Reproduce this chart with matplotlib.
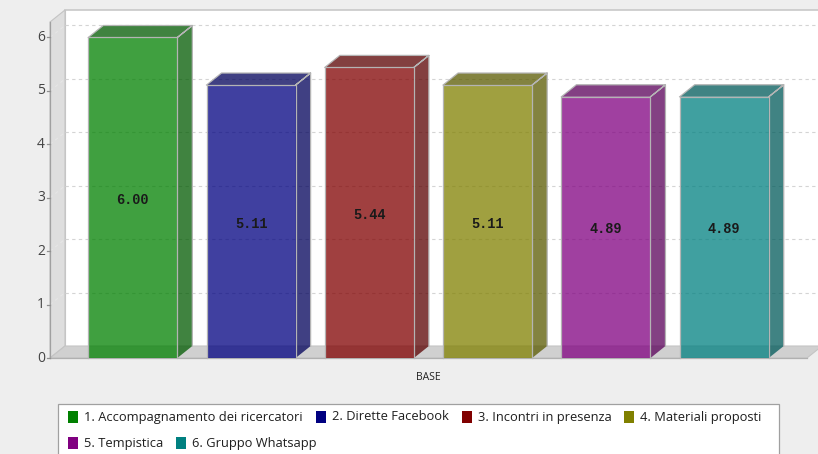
import matplotlib
matplotlib.use("Agg")
import matplotlib.pyplot as plt
from matplotlib.patches import Polygon, Rectangle
from matplotlib.transforms import IdentityTransform, offset_copy
from matplotlib.colors import to_rgb

labels = ["1. Accompagnamento dei ricercatori", "2. Dirette Facebook",
          "3. Incontri in presenza", "4. Materiali proposti",
          "5. Tempistica", "6. Gruppo Whatsapp"]
values = [6.00, 5.11, 5.44, 5.11, 4.89, 4.89]
colors = ["#008000", "#000080", "#800000", "#808000", "#800080", "#008080"]
y_ticks = [0, 1, 2, 3, 4, 5, 6]
axis_label = "BASE"

W, H = 818, 454
DX, DY = 15, 12      # 3d depth offset, pixels
ALPHA = 0.75
BAR_W = 0.753

fig = plt.figure(figsize=(W / 100, H / 100), dpi=100, facecolor="#eeeeee")
ax = fig.add_axes([50 / W, (H - 358) / H, (807 - 50) / W, (358 - 22) / H])
ax.set_xlim(-0.7, 5.7)
ax.set_ylim(0, 6.29)
ax.axis("off")
ident = IdentityTransform()


def px(x, y, dx=0, dy=0):
    p = ax.transData.transform((x, y))
    return (p[0] + dx, p[1] + dy)


def poly(pts, **kw):
    kw.setdefault("clip_on", False)
    ax.add_patch(Polygon(pts, closed=True, transform=ident, **kw))


x0, x1 = ax.get_xlim()
y0, y1 = ax.get_ylim()

# back wall, left wall and floor
poly([px(x0, y0, DX, DY), px(x1, y0, DX, DY), px(x1, y1, DX, DY), px(x0, y1, DX, DY)],
     facecolor="white", edgecolor="none", zorder=0)
ax.plot(*zip(px(x0, y1, DX, DY), px(x1, y1, DX, DY)), transform=ident,
        color="#c8c8c8", lw=1.2, clip_on=False, zorder=1)
ax.plot(*zip(px(x0, y0, DX, DY), px(x0, y1, DX, DY)), transform=ident,
        color="#c8c8c8", lw=0.8, clip_on=False, zorder=1)
poly([px(x0, y0), px(x0, y1), px(x0, y1, DX, DY), px(x0, y0, DX, DY)],
     facecolor="#dedede", edgecolor="#c4c4c4", lw=0.8, zorder=1)
poly([px(x0, y0), px(x0, y0, DX, DY), px(x1, y0, DX, DY), px(x1, y0)],
     facecolor="#d0d0d0", edgecolor="#c4c4c4", lw=0.8, zorder=1)

# grid on back wall
for v in y_ticks[1:]:
    ax.plot(*zip(px(x0, v, DX, DY), px(x1, v, DX, DY)), transform=ident,
            color="#d4d4d4", lw=0.8, ls=(0, (3, 3)), clip_on=False, zorder=2)
    ax.plot(*zip(px(x0, v), px(x0, v, DX, DY)), transform=ident,
            color="#e6e6e6", lw=0.8, ls=(0, (3, 3)), clip_on=False, zorder=2)

# bars
for i, (v, c) in enumerate(zip(values, colors)):
    dark = tuple(ch * 0.7 for ch in to_rgb(c))
    a, b = i - BAR_W / 2, i + BAR_W / 2
    poly([px(b, 0), px(b, v), px(b, v, DX, DY), px(b, 0, DX, DY)],
         facecolor=dark, alpha=ALPHA, edgecolor="none", zorder=3)
    poly([px(a, v), px(b, v), px(b, v, DX, DY), px(a, v, DX, DY)],
         facecolor=dark, alpha=ALPHA, edgecolor="none", zorder=3)
    ax.bar(i, v, width=BAR_W, color=c, alpha=ALPHA, zorder=4, clip_on=False)
    # outline
    ax.plot(*zip(px(a, 0), px(a, v), px(b, v), px(b, 0)), transform=ident,
            color="#b4b4b4", lw=0.9, clip_on=False, zorder=5)
    ax.plot(*zip(px(a, v), px(a, v, DX, DY), px(b, v, DX, DY), px(b, v),
                 px(b, v, DX, DY), px(b, 0, DX, DY)), transform=ident,
            color="#b4b4b4", lw=0.9, clip_on=False, zorder=5)
    ax.text(i, v / 2, f"{v:.2f}", transform=offset_copy(ax.transData, fig=fig, y=-2, units="dots"),
            ha="center", va="center", fontsize=9.8, fontweight="bold",
            family="Liberation Mono", color="#1a1a1a", zorder=6)

# axes lines and ticks
ax.plot(*zip(px(x0, y0), px(x0, y1)), transform=ident, color="#a0a0a0",
        lw=0.9, clip_on=False, zorder=2)
ax.plot(*zip(px(x0, y0), px(x1, y0)), transform=ident, color="#b0b0b0",
        lw=0.9, clip_on=False, zorder=2)
for v in y_ticks:
    ax.plot(*zip(px(x0, v, -3), px(x0, v)), transform=ident, color="#909090",
            lw=0.9, clip_on=False)
    ax.text(x0, v, str(v), transform=offset_copy(ax.transData, fig=fig, x=-5, units="dots"),
            ha="right", va="center", fontsize=10, family="Open Sans", color="#444444")

ax.text((x0 + x1) / 2, 0, axis_label,
        transform=offset_copy(ax.transData, fig=fig, y=-19, units="dots"),
        ha="center", va="center", fontsize=7.5, family="Open Sans", color="#222222")

# legend with flow layout
fig.patches.append(Rectangle((58, H - 460), 779 - 58, 460 - 404, transform=ident,
                             facecolor="white", edgecolor="#a0a0a0", lw=0.9))
renderer = fig.canvas.get_renderer()
lx, ly = 68, H - 417
for lab, c in zip(labels, colors):
    t = fig.text(0, 0, lab, transform=ident, fontsize=9.3, family="Open Sans",
                 color="#1e1e1e", va="center", ha="left")
    tw = t.get_window_extent(renderer).width
    if lx + 16 + tw > 778:
        lx, ly = 68, ly - 26
    fig.patches.append(Rectangle((lx, ly - 6), 10, 12, transform=ident,
                                 facecolor=c, edgecolor="none"))
    t.set_position((lx + 16, ly))
    lx += 16 + tw + 13

fig.savefig("out.png", dpi=100, facecolor=fig.get_facecolor())
